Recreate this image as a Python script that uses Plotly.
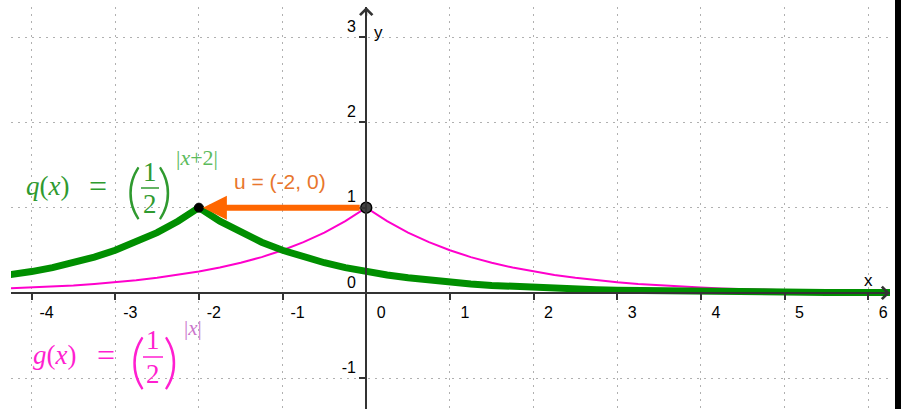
import plotly.graph_objects as go

# ---- data -------------------------------------------------------------
# g(x) = (1/2)^|x| sampled every 0.25
g_x = [-4.5, -4.25, -4.0, -3.75, -3.5, -3.25, -3.0, -2.75, -2.5, -2.25,
       -2.0, -1.75, -1.5, -1.25, -1.0, -0.75, -0.5, -0.25, 0.0,
       0.25, 0.5, 0.75, 1.0, 1.25, 1.5, 1.75, 2.0, 2.25, 2.5, 2.75,
       3.0, 3.25, 3.5, 3.75, 4.0, 4.25, 4.5, 4.75, 5.0, 5.25, 5.5, 5.75,
       6.0, 6.25, 6.5, 6.75, 7.0, 7.25, 7.5, 7.75, 8.0, 8.25, 8.5]
g_y = [0.044, 0.053, 0.0625, 0.074, 0.088, 0.105, 0.125, 0.149, 0.177, 0.210,
       0.25, 0.297, 0.354, 0.420, 0.5, 0.595, 0.707, 0.841, 1.0,
       0.841, 0.707, 0.595, 0.5, 0.420, 0.354, 0.297, 0.25, 0.210, 0.177, 0.149,
       0.125, 0.105, 0.088, 0.074, 0.0625, 0.053, 0.044, 0.037, 0.031, 0.026, 0.022, 0.019,
       0.016, 0.013, 0.011, 0.009, 0.008, 0.007, 0.006, 0.005, 0.004, 0.003, 0.003]

# translation vector u = (-2, 0):  q(x) = g translated by u
u = [-2, 0]
q_x = [x + u[0] for x in g_x]
q_y = [y + u[1] for y in g_y]

g_vertex = [0, 1]
q_vertex = [g_vertex[0] + u[0], g_vertex[1] + u[1]]

x_ticks = [-4, -3, -2, -1, 0, 1, 2, 3, 4, 5, 6]
x_tick_labels = ["-4", "-3", "-2", "-1", "0", "1", "2", "3", "4", "5", "6"]
y_ticks = [-1, 0, 1, 2, 3]
y_tick_labels = ["-1", "0", "1", "2", "3"]

X_RANGE = [-4.246, 6.261]
Y_RANGE = [-1.362, 3.354]

# ---- layout helpers (pixel -> paper) ----------------------------------
W, H = 901, 409
ML, MR, MT, MB = 11, 0, 0, 0
PLOT_RIGHT = 890          # right edge of the graphics view (px)
PLOT_TOP = 7              # top edge of the graphics view (px)
X_DOMAIN_END = (PLOT_RIGHT - ML) / (W - ML - MR)
Y_DOMAIN_END = (H - MB - PLOT_TOP) / (H - MT - MB)


def px(x):
    return (x - ML) / (W - ML - MR)


def py(y):
    return 1 - (y - MT) / (H - MT - MB)


GREEN = "#008f00"
GREEN_T = "#2f9a2f"
GREEN_T2 = "#5cbb5c"
MAG = "#ff00cc"
MAG_T = "#ff1fd0"
MAG_T2 = "#cc77cc"
ORANGE = "#ff6600"
AXIS = "#333333"
SERIF = "Liberation Serif"
SANS = "Liberation Sans"
PAREN = "Lato"

fig = go.Figure()

fig.add_trace(go.Scatter(x=g_x, y=g_y, mode="lines",
                         line=dict(color=MAG, width=2), hoverinfo="skip"))
fig.add_trace(go.Scatter(x=q_x, y=q_y, mode="lines",
                         line=dict(color=GREEN, width=7), hoverinfo="skip"))
fig.add_trace(go.Scatter(x=[g_vertex[0]], y=[g_vertex[1]], mode="markers",
                         marker=dict(size=11, color="#444444",
                                     line=dict(color="black", width=1.5)),
                         cliponaxis=False, hoverinfo="skip"))
fig.add_trace(go.Scatter(x=[q_vertex[0]], y=[q_vertex[1]], mode="markers",
                         marker=dict(size=9, color="black",
                                     line=dict(color="black", width=1)),
                         cliponaxis=False, hoverinfo="skip"))

ann = []


def txt(text, x, y, size, color, family=SERIF, weight="normal"):
    ann.append(dict(text=text, x=px(x), y=py(y), xref="paper", yref="paper",
                    xanchor="center", yanchor="middle", showarrow=False,
                    font=dict(family=family, size=size, color=color, weight=weight)))


# vector u arrow
ann.append(dict(text="", x=q_vertex[0], y=q_vertex[1], ax=g_vertex[0], ay=g_vertex[1],
                xref="x", yref="y", axref="x", ayref="y", showarrow=True,
                arrowhead=2, arrowsize=0.8, arrowwidth=6, arrowcolor=ORANGE,
                standoff=4, startstandoff=5))
# axis arrows
ann.append(dict(text="", x=X_RANGE[1], y=0, ax=X_RANGE[1] - 0.12, ay=0,
                xref="x", yref="y", axref="x", ayref="y", showarrow=True,
                arrowhead=4, arrowsize=1.2, arrowwidth=2, arrowcolor=AXIS))
ann.append(dict(text="", x=0, y=Y_RANGE[1], ax=0, ay=Y_RANGE[1] - 0.12,
                xref="x", yref="y", axref="x", ayref="y", showarrow=True,
                arrowhead=4, arrowsize=1.2, arrowwidth=2, arrowcolor=AXIS))

# axis names
txt("x", 868, 280, 17, "black", SANS)
txt("y", 378, 33, 17, "black", SANS)

# vector label
txt("u = (-2, 0)", 280, 182, 21, "#e8762c", SANS)

# q(x) formula
txt("<i>q</i>(<i>x</i>)", 47.5, 186, 27, GREEN_T)
txt("=", 97.5, 186, 32, GREEN_T)
txt("(", 133.5, 189, 60, GREEN_T, PAREN, 300)
txt(")", 164, 189, 60, GREEN_T, PAREN, 300)
txt("1", 150, 172, 27, GREEN_T)
txt("2", 150, 204, 27, GREEN_T)
txt("|<i>x</i>+2|", 197, 157, 22, GREEN_T2)

# g(x) formula
txt("<i>g</i>(<i>x</i>)", 54, 355, 27, MAG_T)
txt("=", 106, 355, 32, MAG_T)
txt("(", 137.5, 359, 60, MAG_T, PAREN, 300)
txt(")", 170, 359, 60, MAG_T, PAREN, 300)
txt("1", 153, 340, 27, MAG_T)
txt("2", 153, 374, 27, MAG_T)
txt("|<i>x</i>|", 193, 328, 21, MAG_T2)

shapes = [
    dict(type="line", xref="paper", yref="paper", x0=px(141), x1=px(159),
         y0=py(188), y1=py(188), line=dict(color=GREEN_T, width=1.5)),
    dict(type="line", xref="paper", yref="paper", x0=px(143), x1=px(163),
         y0=py(357), y1=py(357), line=dict(color=MAG_T, width=1.5)),
    # black frame strip on the right edge
    dict(type="rect", xref="paper", yref="paper", x0=px(895), x1=1.0,
         y0=0.0, y1=1.0, fillcolor="black", line=dict(width=0), layer="above"),
]

xfrac = Y_DOMAIN_END * (0 - Y_RANGE[0]) / (Y_RANGE[1] - Y_RANGE[0])
yfrac = X_DOMAIN_END * (0 - X_RANGE[0]) / (X_RANGE[1] - X_RANGE[0])

fig.update_layout(
    width=W, height=H,
    margin=dict(l=ML, r=MR, t=MT, b=MB, pad=0, autoexpand=False),
    paper_bgcolor="white", plot_bgcolor="white",
    showlegend=False, hovermode=False,
    annotations=ann, shapes=shapes,
    xaxis=dict(range=X_RANGE, domain=[0, X_DOMAIN_END],
               tickvals=x_ticks, ticktext=x_tick_labels,
               showgrid=True, gridcolor="#b0b0b0", griddash="2px,5px", gridwidth=1,
               zeroline=False, showline=True, linecolor=AXIS, linewidth=2,
               anchor="free", position=xfrac, automargin=False,
               ticks="outside", ticklen=6, tickwidth=2, tickcolor=AXIS,
               tickfont=dict(family=SANS, size=16, color="black"),
               ticklabelshift=15, ticklabelstandoff=-1, fixedrange=True),
    yaxis=dict(range=Y_RANGE, domain=[0, Y_DOMAIN_END],
               tickvals=y_ticks, ticktext=y_tick_labels,
               showgrid=True, gridcolor="#b0b0b0", griddash="2px,5px", gridwidth=1,
               zeroline=False, showline=True, linecolor=AXIS, linewidth=2,
               anchor="free", position=yfrac, side="left", automargin=False,
               ticks="outside", ticklen=6, tickwidth=2, tickcolor=AXIS,
               tickfont=dict(family=SANS, size=16, color="black"),
               ticklabelshift=-11, ticklabelstandoff=0, fixedrange=True),
)

fig.write_html("out.html", config={"displayModeBar": False},
               post_script="document.body.style.margin='0';"
                           "document.body.style.overflow='hidden';")
